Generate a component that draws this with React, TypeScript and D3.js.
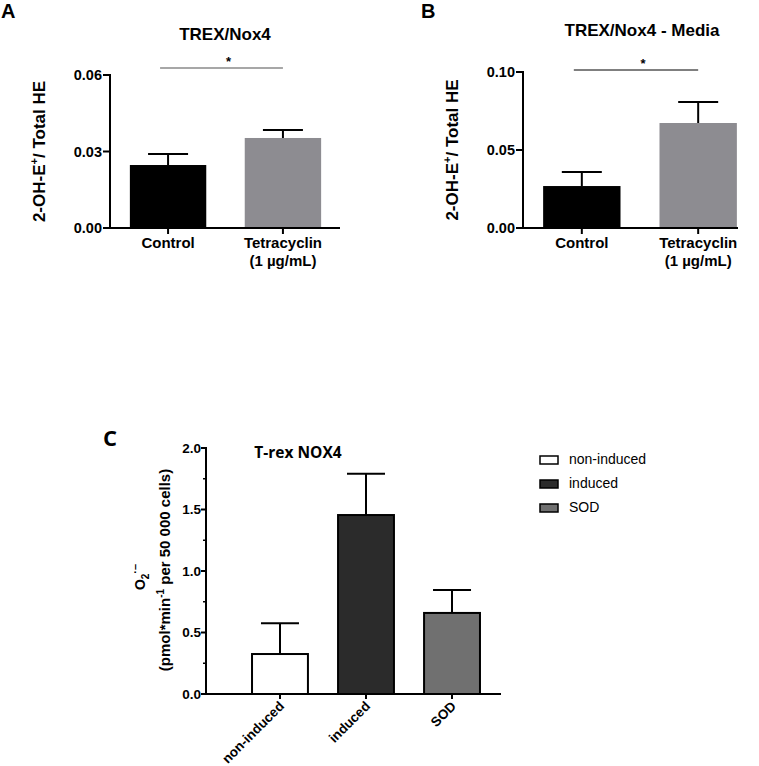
import React from "react";
import * as d3 from "d3";

// ---------- Data ----------
const abCategories = ["Control", "Tetracyclin"];
const abCategorySub = ["", "(1 µg/mL)"];
const aValues = [0.0247, 0.0353];
const aErrors = [0.0043, 0.0031];
const aTicks = [0, 0.03, 0.06];
const bValues = [0.0269, 0.0673];
const bErrors = [0.009, 0.0135];
const bTicks = [0, 0.05, 0.1];

const cCategories = ["non-induced", "induced", "SOD"];
const cValues = [0.325, 1.455, 0.659];
const cErrors = [0.25, 0.335, 0.186];
const cMajorTicks = [0, 0.5, 1.0, 1.5, 2.0];
const cMinorTicks = [0.25, 0.75, 1.25, 1.75];
const cColors = ["#ffffff", "#2b2b2b", "#707070"];
const abColors = ["#000000", "#8d8c91"];

const FONT = "'Liberation Sans', Arial, Helvetica, sans-serif";

type PanelProps = {
  letter: string;
  letterX: number;
  title: string;
  titleX: number;
  titleY: number;
  axisX: number;
  y0: number;
  y1: number;
  yMax: number;
  ticks: number[];
  values: number[];
  errors: number[];
  xRange: [number, number];
  axisEnd: number;
  sigY: number;
  sigColor: string;
  sigWidth: number;
  yLabelX: number;
};

function PanelAB(p: PanelProps) {
  const y = d3.scaleLinear().domain([0, p.yMax]).range([p.y0, p.y1]);
  const x = d3
    .scaleBand<string>()
    .domain(abCategories)
    .range(p.xRange)
    .paddingInner(0.335)
    .paddingOuter(0.173);
  const bw = x.bandwidth();
  const fmt = d3.format(".2f");
  const cx0 = (x(abCategories[0]) as number) + bw / 2;
  const cx1 = (x(abCategories[1]) as number) + bw / 2;
  return (
    <g>
      <text x={p.letterX} y={18} fontFamily={FONT} fontWeight="bold" fontSize={20}>
        {p.letter}
      </text>
      <text x={p.titleX} y={p.titleY} textAnchor="middle" fontFamily={FONT} fontWeight="bold" fontSize={17}>
        {p.title}
      </text>
      {abCategories.map((c, i) => (
        <rect
          key={c}
          x={x(c) as number}
          y={y(p.values[i])}
          width={bw}
          height={p.y0 - y(p.values[i])}
          fill={abColors[i]}
        />
      ))}
      {abCategories.map((c, i) => {
        const cx = (x(c) as number) + bw / 2;
        const top = y(p.values[i] + p.errors[i]);
        return (
          <g key={c} stroke="#000" strokeWidth={2}>
            <line x1={cx} x2={cx} y1={y(p.values[i])} y2={top} />
            <line x1={cx - 20} x2={cx + 20} y1={top} y2={top} />
          </g>
        );
      })}
      <line x1={p.axisX} x2={p.axisX} y1={p.y0 + 1} y2={y(p.yMax) - 1} stroke="#000" strokeWidth={2} />
      {p.ticks.map((t) => (
        <g key={t}>
          <line x1={p.axisX - 7} x2={p.axisX} y1={y(t)} y2={y(t)} stroke="#000" strokeWidth={2} />
          <text
            x={p.axisX - 8}
            y={y(t)}
            dy="0.36em"
            textAnchor="end"
            fontFamily={FONT}
            fontWeight="bold"
            fontSize={14.5}
          >
            {fmt(t)}
          </text>
        </g>
      ))}
      <line x1={p.axisX - 1} x2={p.axisEnd} y1={p.y0} y2={p.y0} stroke="#000" strokeWidth={2} />
      {abCategories.map((c, i) => {
        const cx = (x(c) as number) + bw / 2;
        return (
          <g key={c}>
            <line x1={cx} x2={cx} y1={p.y0} y2={p.y0 + 6} stroke="#000" strokeWidth={2} />
            <text x={cx} y={p.y0 + 20} textAnchor="middle" fontFamily={FONT} fontWeight="bold" fontSize={15}>
              {c}
            </text>
            {abCategorySub[i] && (
              <text x={cx} y={p.y0 + 38} textAnchor="middle" fontFamily={FONT} fontWeight="bold" fontSize={15}>
                {abCategorySub[i]}
              </text>
            )}
          </g>
        );
      })}
      <line x1={cx0 - 8} x2={cx1} y1={p.sigY} y2={p.sigY} stroke={p.sigColor} strokeWidth={p.sigWidth} />
      <text x={(cx0 + cx1) / 2 + 3} y={p.sigY - 2} textAnchor="middle" fontFamily={FONT} fontWeight="bold" fontSize={13}>
        *
      </text>
      <text
        transform={`translate(${p.yLabelX},${(p.y0 + y(p.yMax)) / 2}) rotate(-90)`}
        textAnchor="middle"
        fontFamily={FONT}
        fontWeight="bold"
        fontSize={17}
      >
        2-OH-E<tspan dy="-7" fontSize={11}>+</tspan>
        <tspan dy="7">/ Total HE</tspan>
      </text>
    </g>
  );
}

function PanelC() {
  const y0 = 694;
  const y1 = 448;
  const axisX = 206;
  const y = d3.scaleLinear().domain([0, 2]).range([y0, y1]);
  const x = d3
    .scaleBand<string>()
    .domain(cCategories)
    .range([axisX, 526])
    .paddingInner(0.35)
    .paddingOuter(0.535);
  const bw = x.bandwidth();
  const fmt = d3.format(".1f");
  return (
    <g>
      <text x={103} y={446} fontFamily="'Open Sans', sans-serif" fontWeight="bold" fontSize={22}>
        C
      </text>
      <text x={298} y={458} textAnchor="middle" fontFamily="'Open Sans', sans-serif" fontWeight="bold" fontSize={15.5}>
        T-rex NOX4
      </text>
      {cCategories.map((c, i) => (
        <rect
          key={c}
          x={x(c) as number}
          y={y(cValues[i])}
          width={bw}
          height={y0 - y(cValues[i])}
          fill={cColors[i]}
          stroke="#000"
          strokeWidth={2}
        />
      ))}
      {cCategories.map((c, i) => {
        const cx = (x(c) as number) + bw / 2;
        const top = y(cValues[i] + cErrors[i]);
        return (
          <g key={c} stroke="#000" strokeWidth={2}>
            <line x1={cx} x2={cx} y1={y(cValues[i])} y2={top} />
            <line x1={cx - 19} x2={cx + 19} y1={top} y2={top} />
          </g>
        );
      })}
      <line x1={axisX} x2={axisX} y1={y0 + 1} y2={y(2) - 1} stroke="#000" strokeWidth={2} />
      {cMajorTicks.map((t) => (
        <g key={t}>
          <line x1={axisX - 5} x2={axisX} y1={y(t)} y2={y(t)} stroke="#000" strokeWidth={2} />
          <text x={axisX - 5} y={y(t)} dy="0.36em" textAnchor="end" fontFamily={FONT} fontWeight="bold" fontSize={13.5}>
            {fmt(t)}
          </text>
        </g>
      ))}
      {cMinorTicks.map((t) => (
        <line key={t} x1={axisX - 3} x2={axisX} y1={y(t)} y2={y(t)} stroke="#000" strokeWidth={1.5} />
      ))}
      <line x1={axisX - 1} x2={501} y1={y0} y2={y0} stroke="#000" strokeWidth={2} />
      {cCategories.map((c) => {
        const cx = (x(c) as number) + bw / 2;
        return (
          <g key={c}>
            <line x1={cx} x2={cx} y1={y0} y2={y0 + 5} stroke="#000" strokeWidth={2} />
            <text
              transform={`translate(${cx + 5},${y0 + 13}) rotate(-45)`}
              textAnchor="end"
              fontFamily={FONT}
              fontWeight="bold"
              fontSize={13.5}
            >
              {c}
            </text>
          </g>
        );
      })}
      <text
        transform={`translate(145,577) rotate(-90)`}
        textAnchor="middle"
        fontFamily={FONT}
        fontWeight="bold"
        fontSize={14}
      >
        O<tspan dy="4" fontSize={10}>2</tspan>
        <tspan dy="-10" fontSize={11}>·–</tspan>
      </text>
      <text
        transform={`translate(170,570) rotate(-90)`}
        textAnchor="middle"
        fontFamily={FONT}
        fontWeight="bold"
        fontSize={15}
      >
        (pmol*min<tspan dy="-6" fontSize={10}>-1</tspan>
        <tspan dy="6"> per 50 000 cells)</tspan>
      </text>
      {cCategories.map((c, i) => (
        <g key={c} transform={`translate(540,${456 + i * 24})`}>
          <rect x={0} y={0} width={18} height={8} fill={cColors[i]} stroke="#000" strokeWidth={1.5} />
          <text x={29} y={8} fontFamily={FONT} fontSize={14}>
            {c}
          </text>
        </g>
      ))}
    </g>
  );
}

export default function App() {
  return (
    <svg
      width={759}
      height={766}
      style={{ position: "absolute", left: 0, top: 0, background: "#fff" }}
    >
      <rect width={759} height={766} fill="#fff" />
      <PanelAB
        letter="A"
        letterX={1}
        title="TREX/Nox4"
        titleX={225}
        titleY={40}
        axisX={110}
        y0={228}
        y1={75}
        yMax={0.06}
        ticks={aTicks}
        values={aValues}
        errors={aErrors}
        xRange={[110, 341]}
        axisEnd={340}
        sigY={68}
        sigColor="#8a8a8a"
        sigWidth={1.5}
        yLabelX={45}
      />
      <PanelAB
        letter="B"
        letterX={421}
        title="TREX/Nox4 - Media"
        titleX={642}
        titleY={36}
        axisX={523}
        y0={228}
        y1={72}
        yMax={0.1}
        ticks={bTicks}
        values={bValues}
        errors={bErrors}
        xRange={[523, 757]}
        axisEnd={738}
        sigY={70}
        sigColor="#000"
        sigWidth={1}
        yLabelX={458}
      />
      <PanelC />
    </svg>
  );
}
